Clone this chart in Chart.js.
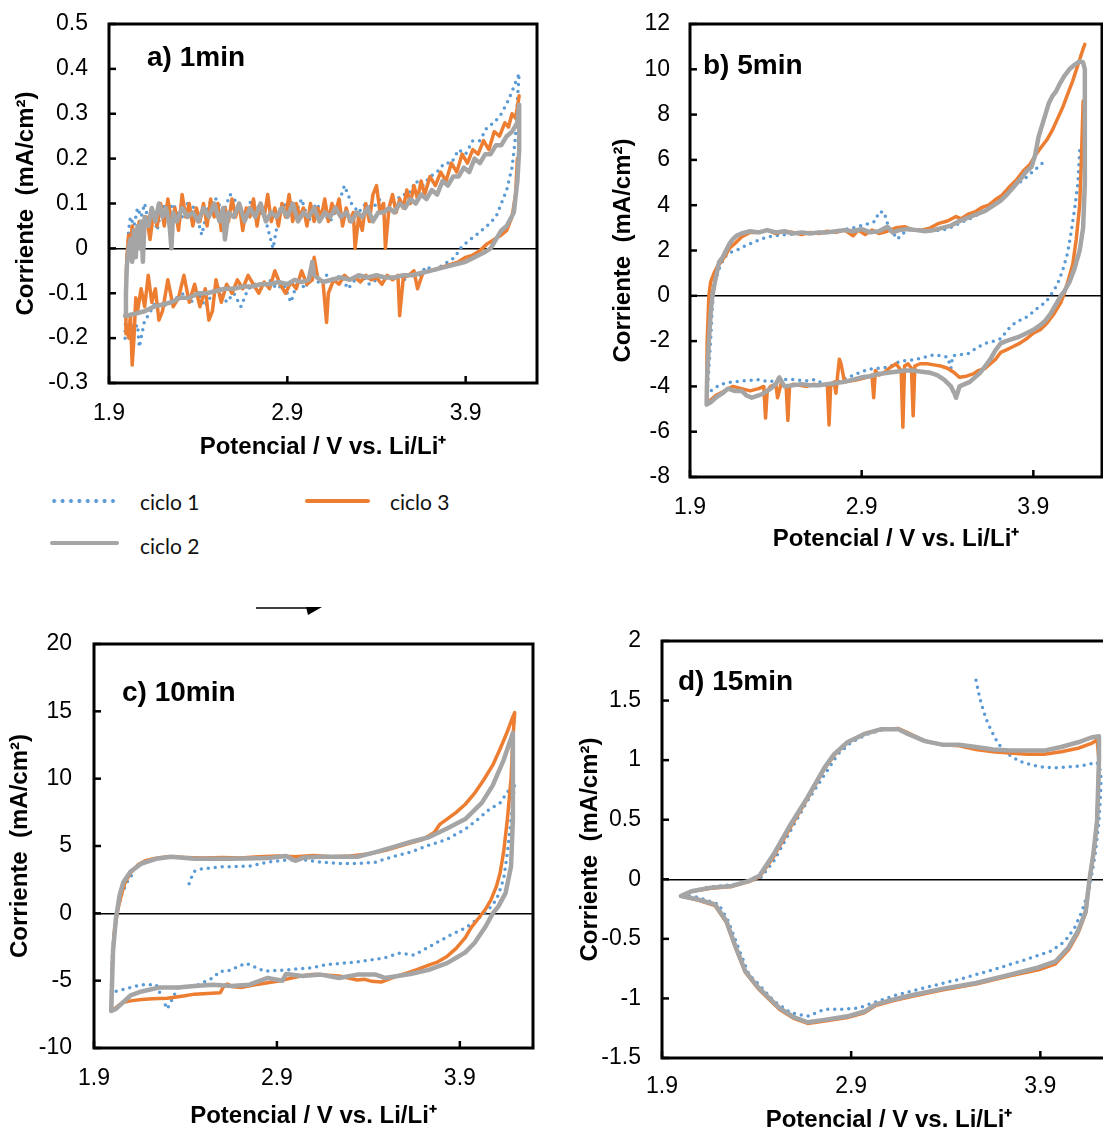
<!DOCTYPE html>
<html>
<head>
<meta charset="utf-8">
<script src="https://cdn.jsdelivr.net/npm/chart.js@4.4.1/dist/chart.umd.min.js"></script>
<style>
  html, body { margin: 0; padding: 0; background: #fff; }
  body { position: relative; width: 1103px; height: 1131px; overflow: hidden; font-family: Lato, "Open Sans", sans-serif; }
  canvas { position: absolute; }
  .leg-text { position: absolute; font-size: 21px; line-height: 24px; color: #111; }
  .leg-line { position: absolute; height: 4px; border-radius: 2px; }
  .dots { background: radial-gradient(circle, #5B9BD5 1.7px, rgba(91,155,213,0) 2.2px) repeat-x; background-size: 8.4px 4px; }
</style>
</head>
<body>
<canvas id="chartA" width="560" height="470" style="left:0;top:0"></canvas>
<canvas id="chartB" width="520" height="560" style="left:583px;top:0"></canvas>
<canvas id="chartC" width="560" height="540" style="left:0;top:600px"></canvas>
<canvas id="chartD" width="553" height="540" style="left:570px;top:600px"></canvas>

<div class="leg-line dots" style="left:50px;top:499px;width:68px"></div>
<div class="leg-text" style="left:140px;top:490px">ciclo 1</div>
<div class="leg-line" style="left:305px;top:499px;width:65px;background:#ED7D31"></div>
<div class="leg-text" style="left:390px;top:490px">ciclo 3</div>
<div class="leg-line" style="left:50px;top:541px;width:69px;background:#A5A5A5"></div>
<div class="leg-text" style="left:140px;top:534px">ciclo 2</div>

<svg style="position:absolute;left:250px;top:598px" width="80" height="24">
  <line x1="6" y1="10" x2="60" y2="10" stroke="#000" stroke-width="1.5"/>
  <polygon points="56,9 72,9 58,17" fill="#000"/>
</svg>

<script>
const xTicks = [1.9, 2.9, 3.9];
const seriesNames = ['ciclo 1', 'ciclo 2', 'ciclo 3'];

// a) 1min  [potencial V, corriente mA/cm2]
const aCiclo1 = [[1.99,-0.2],[1.995,-0.1],[2.0,-0.02],[2.01,0.04],[2.02,0.07],[2.04,0.05],[2.06,0.09],[2.08,0.07],[2.1,0.1],[2.12,0.06],[2.14,0.09],[2.17,0.04],[2.2,0.1],[2.23,0.08],[2.26,0.1],[2.3,0.06],[2.34,0.1],[2.38,0.09],[2.42,0.03],[2.46,0.1],[2.5,0.11],[2.54,0.08],[2.58,0.12],[2.62,0.1],[2.66,0.07],[2.7,0.11],[2.74,0.09],[2.78,0.06],[2.82,0.0],[2.86,0.09],[2.9,0.1],[2.94,0.07],[2.98,0.11],[3.02,0.06],[3.06,0.1],[3.1,0.08],[3.14,0.06],[3.18,0.09],[3.22,0.14],[3.26,0.1],[3.3,0.08],[3.34,0.1],[3.38,0.09],[3.42,0.11],[3.46,0.08],[3.5,0.1],[3.54,0.12],[3.58,0.12],[3.62,0.15],[3.66,0.14],[3.7,0.16],[3.74,0.17],[3.78,0.19],[3.82,0.19],[3.86,0.22],[3.9,0.21],[3.94,0.24],[3.98,0.24],[4.02,0.27],[4.06,0.28],[4.1,0.3],[4.14,0.33],[4.17,0.36],[4.19,0.38],[4.2,0.39],
  [4.19,0.33],[4.18,0.25],[4.16,0.18],[4.13,0.13],[4.1,0.1],[4.07,0.07],[4.02,0.05],[3.96,0.03],[3.91,0.015],[3.87,0.0],[3.84,-0.02],[3.8,-0.03],[3.76,-0.04],[3.72,-0.05],[3.68,-0.04],[3.64,-0.06],[3.6,-0.05],[3.56,-0.07],[3.52,-0.06],[3.48,-0.07],[3.44,-0.06],[3.4,-0.07],[3.36,-0.08],[3.32,-0.06],[3.28,-0.07],[3.24,-0.09],[3.2,-0.06],[3.16,-0.07],[3.12,-0.06],[3.08,-0.08],[3.04,-0.05],[3.0,-0.09],[2.96,-0.07],[2.92,-0.12],[2.88,-0.08],[2.84,-0.09],[2.8,-0.07],[2.76,-0.09],[2.72,-0.08],[2.68,-0.09],[2.64,-0.13],[2.6,-0.1],[2.56,-0.12],[2.52,-0.09],[2.48,-0.1],[2.44,-0.13],[2.4,-0.1],[2.36,-0.12],[2.32,-0.1],[2.28,-0.11],[2.24,-0.12],[2.2,-0.13],[2.16,-0.12],[2.12,-0.15],[2.1,-0.16],[2.08,-0.2],[2.07,-0.22],[2.06,-0.17],[2.04,-0.18],[2.02,-0.16],[2.0,-0.19]];
const aCiclo2 = [[1.99,-0.15],[1.995,-0.1],[2.0,-0.04],[2.01,0.0],[2.02,0.02],[2.03,-0.03],[2.04,0.04],[2.05,-0.02],[2.06,0.05],[2.07,0.0],[2.08,0.06],[2.09,-0.03],[2.1,0.07],[2.12,0.05],[2.14,0.09],[2.16,0.06],[2.18,0.1],[2.2,0.07],[2.22,0.09],[2.24,0.05],[2.25,0.0],[2.26,0.08],[2.28,0.06],[2.31,0.09],[2.34,0.07],[2.37,0.08],[2.4,0.06],[2.43,0.09],[2.46,0.07],[2.49,0.1],[2.52,0.06],[2.54,0.09],[2.55,0.02],[2.57,0.08],[2.6,0.07],[2.63,0.1],[2.66,0.06],[2.69,0.09],[2.72,0.07],[2.75,0.1],[2.78,0.06],[2.81,0.08],[2.84,0.07],[2.87,0.09],[2.9,0.07],[2.93,0.1],[2.96,0.06],[2.99,0.08],[3.02,0.07],[3.05,0.09],[3.08,0.06],[3.11,0.08],[3.14,0.07],[3.17,0.09],[3.2,0.07],[3.23,0.08],[3.26,0.06],[3.29,0.08],[3.32,0.07],[3.35,0.09],[3.38,0.06],[3.41,0.08],[3.44,0.08],[3.47,0.09],[3.5,0.08],[3.53,0.1],[3.56,0.09],[3.59,0.11],[3.62,0.1],[3.65,0.12],[3.68,0.11],[3.71,0.13],[3.74,0.12],[3.77,0.15],[3.8,0.14],[3.83,0.16],[3.86,0.16],[3.89,0.18],[3.92,0.17],[3.95,0.2],[3.98,0.19],[4.01,0.21],[4.04,0.21],[4.07,0.23],[4.1,0.23],[4.13,0.25],[4.16,0.26],[4.19,0.28],[4.2,0.32],
  [4.2,0.22],[4.19,0.15],[4.17,0.08],[4.13,0.05],[4.1,0.04],[4.07,0.02],[4.04,0.0],[4.0,-0.01],[3.95,-0.02],[3.9,-0.03],[3.85,-0.035],[3.8,-0.04],[3.75,-0.045],[3.7,-0.05],[3.65,-0.055],[3.6,-0.06],[3.55,-0.06],[3.5,-0.065],[3.45,-0.065],[3.4,-0.06],[3.35,-0.065],[3.3,-0.06],[3.25,-0.07],[3.2,-0.065],[3.15,-0.07],[3.1,-0.075],[3.05,-0.06],[3.04,-0.03],[3.02,-0.07],[2.98,-0.075],[2.94,-0.07],[2.9,-0.08],[2.85,-0.075],[2.8,-0.08],[2.75,-0.08],[2.7,-0.085],[2.65,-0.085],[2.6,-0.09],[2.55,-0.09],[2.5,-0.095],[2.45,-0.1],[2.4,-0.1],[2.35,-0.11],[2.3,-0.11],[2.25,-0.12],[2.2,-0.125],[2.15,-0.13],[2.1,-0.14],[2.05,-0.145],[2.0,-0.15],[1.99,-0.15]];
const aCiclo3 = [[4.19,0.2],[4.18,0.12],[4.16,0.07],[4.13,0.04],[4.1,0.03],[4.06,0.02],[4.02,0.01],[3.98,-0.005],[3.94,-0.015],[3.9,-0.02],[3.86,-0.03],[3.82,-0.035],[3.78,-0.04],[3.74,-0.045],[3.7,-0.05],[3.66,-0.055],[3.63,-0.09],[3.61,-0.05],[3.58,-0.06],[3.55,-0.065],[3.53,-0.15],[3.52,-0.06],[3.49,-0.07],[3.46,-0.06],[3.43,-0.08],[3.4,-0.065],[3.37,-0.07],[3.34,-0.06],[3.31,-0.075],[3.28,-0.065],[3.25,-0.07],[3.22,-0.06],[3.19,-0.08],[3.16,-0.07],[3.13,-0.1],[3.12,-0.165],[3.1,-0.075],[3.07,-0.065],[3.05,-0.02],[3.04,-0.07],[3.01,-0.08],[2.98,-0.05],[2.95,-0.09],[2.92,-0.075],[2.89,-0.1],[2.86,-0.08],[2.83,-0.05],[2.8,-0.09],[2.77,-0.075],[2.74,-0.1],[2.71,-0.08],[2.68,-0.06],[2.65,-0.09],[2.62,-0.07],[2.59,-0.1],[2.56,-0.08],[2.53,-0.12],[2.5,-0.07],[2.48,-0.14],[2.46,-0.16],[2.44,-0.09],[2.41,-0.13],[2.38,-0.08],[2.35,-0.12],[2.32,-0.06],[2.29,-0.11],[2.26,-0.13],[2.23,-0.07],[2.2,-0.14],[2.18,-0.16],[2.16,-0.09],[2.14,-0.12],[2.12,-0.06],[2.1,-0.13],[2.08,-0.09],[2.06,-0.14],[2.05,-0.11],[2.04,-0.2],[2.03,-0.26],[2.02,-0.15],[2.01,-0.2],[2.0,-0.17],[1.995,-0.19],
  [1.995,-0.1],[2.0,-0.02],[2.01,0.03],[2.02,0.0],[2.03,0.05],[2.05,0.02],[2.07,0.06],[2.09,0.03],[2.11,0.07],[2.13,0.02],[2.15,0.08],[2.17,0.05],[2.19,0.1],[2.21,0.05],[2.23,0.11],[2.25,0.06],[2.27,0.09],[2.29,0.04],[2.31,0.12],[2.33,0.07],[2.35,0.1],[2.37,0.05],[2.39,0.09],[2.41,0.06],[2.43,0.1],[2.45,0.05],[2.47,0.11],[2.49,0.07],[2.51,0.1],[2.53,0.04],[2.55,0.09],[2.57,0.06],[2.59,0.11],[2.61,0.07],[2.63,0.1],[2.65,0.04],[2.67,0.09],[2.69,0.07],[2.71,0.11],[2.73,0.05],[2.75,0.1],[2.77,0.07],[2.79,0.12],[2.81,0.06],[2.83,0.09],[2.85,0.05],[2.87,0.1],[2.89,0.07],[2.91,0.12],[2.93,0.06],[2.95,0.1],[2.97,0.07],[2.99,0.09],[3.01,0.05],[3.03,0.1],[3.05,0.06],[3.07,0.09],[3.09,0.07],[3.11,0.11],[3.13,0.06],[3.15,0.1],[3.17,0.08],[3.19,0.11],[3.21,0.05],[3.23,0.09],[3.25,0.06],[3.27,0.08],[3.28,0.0],[3.3,0.07],[3.32,0.04],[3.34,0.1],[3.36,0.06],[3.38,0.12],[3.4,0.14],[3.42,0.08],[3.44,0.1],[3.45,0.0],[3.47,0.09],[3.49,0.12],[3.51,0.08],[3.53,0.11],[3.55,0.09],[3.57,0.13],[3.59,0.1],[3.61,0.14],[3.63,0.11],[3.65,0.15],[3.67,0.12],[3.7,0.16],[3.73,0.14],[3.76,0.17],[3.79,0.15],[3.82,0.19],[3.85,0.17],[3.88,0.21],[3.91,0.19],[3.94,0.22],[3.97,0.21],[4.0,0.24],[4.03,0.22],[4.06,0.26],[4.09,0.25],[4.12,0.28],[4.14,0.27],[4.16,0.3],[4.18,0.29],[4.2,0.34]];

// b) 5min
const bCiclo1 = [[2.0,-4.3],[2.02,-2.0],[2.03,-0.5],[2.04,0.3],[2.05,0.7],[2.07,1.2],[2.1,1.7],[2.13,1.9],[2.17,2.0],[2.22,2.2],[2.28,2.4],[2.35,2.6],[2.45,2.7],[2.55,2.75],[2.65,2.8],[2.75,2.85],[2.85,3.0],[2.9,3.1],[2.95,3.2],[2.98,3.3],[3.0,3.7],[3.03,3.7],[3.05,3.2],[3.08,2.8],[3.11,2.5],[3.13,2.7],[3.17,2.9],[3.25,2.9],[3.32,2.85],[3.4,2.95],[3.47,3.2],[3.53,3.4],[3.58,3.6],[3.65,4.0],[3.7,4.3],[3.76,4.8],[3.82,5.0],[3.87,5.3],[3.9,5.5],[3.93,5.7],[3.96,5.9],[3.98,null],
  [4.17,6.4],[4.16,5.0],[4.14,3.8],[4.12,2.8],[4.1,1.9],[4.07,1.1],[4.04,0.5],[4.0,0.0],[3.97,-0.3],[3.93,-0.5],[3.9,-0.7],[3.85,-1.0],[3.8,-1.15],[3.75,-1.5],[3.71,-1.9],[3.67,-2.0],[3.62,-2.1],[3.57,-2.3],[3.52,-2.55],[3.47,-2.6],[3.43,-2.65],[3.42,-3.2],[3.4,-2.7],[3.36,-2.65],[3.32,-2.6],[3.27,-2.7],[3.22,-2.8],[3.17,-2.85],[3.12,-2.9],[3.07,-3.1],[3.02,-3.2],[2.97,-3.2],[2.92,-3.3],[2.87,-3.45],[2.82,-3.6],[2.77,-3.75],[2.72,-4.0],[2.68,-3.9],[2.63,-3.7],[2.58,-3.75],[2.5,-3.7],[2.43,-3.7],[2.36,-3.8],[2.29,-3.7],[2.22,-3.75],[2.15,-3.8],[2.08,-3.9],[2.04,-4.1],[2.0,-4.3]];
const bCiclo2 = [[1.997,-4.8],[2.0,-3.5],[2.01,-2.0],[2.02,-0.8],[2.03,0.0],[2.05,0.8],[2.07,1.5],[2.09,1.7],[2.11,2.0],[2.13,2.3],[2.15,2.5],[2.17,2.65],[2.2,2.75],[2.25,2.85],[2.3,2.8],[2.35,2.9],[2.4,2.8],[2.45,2.85],[2.5,2.75],[2.55,2.8],[2.6,2.75],[2.65,2.8],[2.7,2.8],[2.75,2.85],[2.8,2.9],[2.85,2.85],[2.9,2.95],[2.95,2.8],[3.0,2.85],[3.05,3.05],[3.08,2.8],[3.12,2.9],[3.17,2.95],[3.22,2.9],[3.27,2.85],[3.32,2.9],[3.37,3.0],[3.42,3.1],[3.47,3.3],[3.52,3.45],[3.57,3.6],[3.62,3.75],[3.67,4.0],[3.71,4.2],[3.75,4.5],[3.79,4.85],[3.83,5.2],[3.86,5.5],[3.89,5.7],[3.91,6.2],[3.93,7.0],[3.95,7.5],[3.97,8.0],[3.99,8.5],[4.01,8.8],[4.03,9.0],[4.05,9.3],[4.08,9.7],[4.11,10.0],[4.14,10.2],[4.17,10.35],[4.19,10.3],[4.2,10.0],
  [4.2,8.0],[4.2,5.0],[4.19,3.0],[4.17,2.0],[4.14,1.2],[4.11,0.6],[4.08,0.2],[4.06,0.0],[4.03,-0.4],[4.0,-0.8],[3.97,-1.1],[3.94,-1.3],[3.9,-1.5],[3.86,-1.65],[3.82,-1.8],[3.78,-1.9],[3.74,-2.0],[3.71,-2.1],[3.68,-2.4],[3.65,-2.8],[3.62,-3.1],[3.59,-3.4],[3.56,-3.6],[3.53,-3.8],[3.5,-3.9],[3.47,-4.0],[3.45,-4.5],[3.44,-4.3],[3.42,-4.0],[3.38,-3.7],[3.34,-3.5],[3.3,-3.4],[3.25,-3.35],[3.2,-3.3],[3.15,-3.3],[3.1,-3.35],[3.05,-3.4],[3.0,-3.45],[2.95,-3.55],[2.9,-3.6],[2.85,-3.7],[2.8,-3.8],[2.75,-3.85],[2.7,-3.9],[2.65,-3.95],[2.6,-3.95],[2.55,-3.9],[2.5,-3.95],[2.45,-4.0],[2.42,-3.6],[2.4,-3.9],[2.37,-4.1],[2.33,-4.3],[2.3,-4.4],[2.26,-4.5],[2.23,-4.4],[2.2,-4.2],[2.16,-4.2],[2.12,-4.1],[2.09,-4.3],[2.05,-4.5],[2.02,-4.7],[1.997,-4.8]];
const bCiclo3 = [[4.19,8.6],[4.18,6.0],[4.17,4.0],[4.15,2.5],[4.13,1.4],[4.1,0.6],[4.08,0.1],[4.06,-0.3],[4.02,-0.8],[3.98,-1.2],[3.94,-1.5],[3.9,-1.65],[3.86,-1.9],[3.82,-2.1],[3.78,-2.25],[3.74,-2.4],[3.71,-2.5],[3.68,-2.8],[3.65,-3.0],[3.62,-3.2],[3.58,-3.3],[3.55,-3.45],[3.51,-3.55],[3.47,-3.6],[3.44,-3.4],[3.4,-3.2],[3.36,-3.1],[3.32,-3.05],[3.28,-3.0],[3.24,-3.0],[3.21,-3.1],[3.2,-5.3],[3.19,-3.2],[3.17,-3.0],[3.15,-3.1],[3.14,-5.8],[3.13,-3.3],[3.1,-3.0],[3.06,-3.2],[3.03,-3.4],[3.0,-3.5],[2.98,-3.3],[2.97,-4.5],[2.96,-3.5],[2.93,-3.6],[2.88,-3.7],[2.84,-3.75],[2.8,-3.8],[2.78,-3.0],[2.77,-2.8],[2.76,-3.5],[2.75,-4.3],[2.74,-3.8],[2.72,-3.9],[2.71,-5.7],[2.7,-3.9],[2.66,-3.95],[2.62,-3.9],[2.58,-4.0],[2.54,-3.95],[2.5,-3.9],[2.48,-4.0],[2.47,-5.5],[2.46,-4.0],[2.43,-3.9],[2.41,-4.5],[2.4,-3.9],[2.37,-4.0],[2.35,-4.2],[2.34,-5.4],[2.33,-4.0],[2.3,-4.1],[2.25,-4.2],[2.2,-4.1],[2.15,-4.0],[2.1,-4.2],[2.05,-4.4],[2.02,-4.6],[1.997,-4.7],
  [1.997,-4.0],[2.0,-2.0],[2.01,0.0],[2.02,0.6],[2.04,1.0],[2.06,1.3],[2.08,1.5],[2.1,1.7],[2.13,2.1],[2.16,2.3],[2.2,2.6],[2.25,2.8],[2.3,2.8],[2.35,2.9],[2.4,2.75],[2.45,2.85],[2.5,2.8],[2.55,2.7],[2.6,2.8],[2.65,2.75],[2.7,2.85],[2.75,2.8],[2.8,2.9],[2.85,2.65],[2.88,2.9],[2.92,2.7],[2.96,2.9],[3.0,2.75],[3.05,2.85],[3.1,3.0],[3.15,3.05],[3.2,2.9],[3.25,2.9],[3.3,3.0],[3.35,3.2],[3.4,3.3],[3.45,3.5],[3.48,3.4],[3.52,3.6],[3.56,3.7],[3.6,3.9],[3.64,4.0],[3.68,4.25],[3.72,4.45],[3.76,4.8],[3.8,5.1],[3.84,5.5],[3.88,5.8],[3.92,6.3],[3.95,6.6],[3.98,6.9],[4.01,7.3],[4.04,7.8],[4.07,8.3],[4.1,8.9],[4.13,9.5],[4.16,10.2],[4.19,10.9],[4.2,11.1]];

// c) 10min
const cCiclo1 = [[2.42,2.2],[2.445,3.1],[2.49,3.3],[2.59,3.45],[2.75,3.5],[2.85,3.8],[2.95,3.95],[3.04,4.0],[3.14,3.8],[3.24,3.7],[3.34,3.7],[3.44,3.8],[3.53,4.2],[3.63,4.55],[3.73,5.05],[3.83,5.5],[3.93,6.25],[4.0,7.0],[4.06,7.7],[4.12,8.2],[4.16,9.0],[4.2,9.7],
  [4.18,7.0],[4.16,4.5],[4.14,2.6],[4.11,1.35],[4.08,0.6],[4.04,0.1],[4.0,-0.4],[3.93,-1.1],[3.85,-1.6],[3.77,-2.2],[3.65,-3.1],[3.57,-2.95],[3.49,-3.3],[3.34,-3.6],[3.18,-3.8],[3.08,-4.05],[2.95,-4.2],[2.83,-4.3],[2.79,-4.05],[2.73,-3.7],[2.63,-4.3],[2.59,-4.3],[2.55,-4.8],[2.47,-5.3],[2.36,-5.5],[2.3,-7.1],[2.28,-6.5],[2.24,-5.3],[2.16,-5.3],[2.06,-5.65],[2.02,-5.8],[1.994,-6.25],
  [2.0,-2.8],[2.02,-0.4],[2.05,1.35],[2.08,2.3],[2.12,3.1]];
const cCiclo2 = [[1.994,-7.25],[2.004,-2.8],[2.02,-0.37],[2.04,1.35],[2.06,2.3],[2.1,3.1],[2.16,3.7],[2.24,4.05],[2.32,4.2],[2.45,4.05],[2.65,4.05],[2.85,4.1],[2.95,4.25],[3.0,3.9],[3.05,4.15],[3.14,4.2],[3.34,4.2],[3.44,4.55],[3.53,4.9],[3.63,5.3],[3.73,5.65],[3.83,6.3],[3.93,7.0],[4.02,8.2],[4.08,9.5],[4.14,11.4],[4.19,13.4],
  [4.19,7.0],[4.18,3.5],[4.15,1.5],[4.11,0.5],[4.08,0.0],[4.04,-1.0],[3.98,-2.2],[3.93,-2.9],[3.88,-3.3],[3.83,-3.7],[3.73,-4.2],[3.63,-4.5],[3.49,-4.8],[3.44,-4.55],[3.34,-4.55],[3.24,-4.8],[3.14,-4.55],[3.04,-4.65],[2.95,-4.5],[2.93,-5.0],[2.85,-4.8],[2.75,-5.3],[2.65,-5.4],[2.55,-5.3],[2.45,-5.4],[2.36,-5.5],[2.26,-5.5],[2.16,-5.8],[2.1,-6.1],[2.06,-6.6],[2.02,-7.1],[1.994,-7.25]];
const cCiclo3 = [[1.994,-7.2],[2.0,-4.0],[2.01,-1.5],[2.03,0.3],[2.05,1.4],[2.07,2.3],[2.1,3.0],[2.14,3.6],[2.18,3.9],[2.24,4.1],[2.3,4.2],[2.4,4.15],[2.5,4.1],[2.6,4.15],[2.7,4.1],[2.8,4.2],[2.9,4.25],[3.0,4.2],[3.1,4.3],[3.2,4.2],[3.3,4.25],[3.4,4.4],[3.5,4.7],[3.6,5.1],[3.7,5.5],[3.76,6.0],[3.79,6.6],[3.83,7.0],[3.88,7.5],[3.93,8.1],[3.98,8.9],[4.03,9.9],[4.08,11.0],[4.12,12.2],[4.16,13.5],[4.19,14.6],[4.2,14.9],
  [4.19,13.0],[4.18,10.0],[4.16,7.0],[4.14,4.6],[4.12,3.0],[4.1,2.0],[4.07,1.0],[4.04,0.3],[4.0,-0.4],[3.96,-1.1],[3.93,-1.8],[3.88,-2.6],[3.83,-3.2],[3.78,-3.6],[3.73,-3.85],[3.68,-4.1],[3.63,-4.35],[3.58,-4.55],[3.53,-4.8],[3.47,-5.1],[3.42,-5.05],[3.38,-4.9],[3.34,-4.95],[3.29,-4.8],[3.24,-4.65],[3.18,-4.6],[3.12,-4.55],[3.08,-4.55],[3.03,-4.65],[2.98,-4.8],[2.92,-5.0],[2.85,-5.15],[2.78,-5.3],[2.71,-5.5],[2.66,-5.45],[2.63,-5.25],[2.61,-5.4],[2.59,-5.9],[2.52,-5.95],[2.45,-6.0],[2.38,-6.15],[2.3,-6.3],[2.22,-6.35],[2.16,-6.4],[2.1,-6.5],[2.06,-6.6],[2.03,-6.9],[2.0,-7.2],[1.994,-7.25]];

// d) 15min
const dCiclo1 = [[3.56,1.67],[3.58,1.52],[3.6,1.41],[3.62,1.32],[3.64,1.25],[3.67,1.16],[3.7,1.09],[3.74,1.04],[3.79,0.99],[3.83,0.97],[3.88,0.95],[3.92,0.94],[3.97,0.935],[4.01,0.94],[4.06,0.945],[4.1,0.95],[4.14,0.96],[4.17,0.97],[4.2,0.98],[4.22,0.9],[4.22,0.77],[4.21,0.49],[4.19,0.21],[4.16,-0.07],[4.12,-0.27],[4.08,-0.41],[4.03,-0.52],[3.96,-0.6],[3.83,-0.67],[3.65,-0.76],[3.47,-0.84],[3.29,-0.91],[3.12,-0.98],[3.03,-1.03],[2.94,-1.08],[2.85,-1.09],[2.76,-1.09],[2.67,-1.15],[2.58,-1.12],[2.49,-1.02],[2.41,-0.88],[2.36,-0.8],[2.31,-0.6],[2.25,-0.35],[2.2,-0.21],[2.09,-0.15],[2.0,-0.13],[2.13,-0.07],[2.31,-0.04],[2.42,0.01],[2.49,0.15],[2.58,0.41],[2.67,0.66],[2.76,0.88],[2.83,1.05],[2.9,1.15],[2.99,1.22],[3.08,1.26],[3.15,1.26],[3.2,1.22],[3.29,1.16],[3.38,1.13],[3.47,1.13]];
const dCiclo2 = [[2.0,-0.14],[2.056,-0.1],[2.16,-0.07],[2.27,-0.056],[2.36,-0.014],[2.415,0.03],[2.49,0.21],[2.58,0.46],[2.67,0.69],[2.76,0.94],[2.81,1.05],[2.88,1.15],[2.97,1.22],[3.06,1.26],[3.15,1.26],[3.2,1.22],[3.29,1.16],[3.38,1.13],[3.47,1.13],[3.56,1.11],[3.65,1.09],[3.74,1.08],[3.83,1.08],[3.92,1.08],[4.01,1.11],[4.1,1.15],[4.17,1.19],[4.21,1.2],
  [4.21,1.0],[4.2,0.49],[4.18,0.21],[4.16,0.0],[4.14,-0.27],[4.1,-0.43],[4.05,-0.57],[3.98,-0.69],[3.89,-0.74],[3.74,-0.8],[3.56,-0.87],[3.38,-0.92],[3.2,-0.98],[3.12,-1.01],[3.03,-1.05],[2.97,-1.11],[2.88,-1.15],[2.76,-1.18],[2.67,-1.2],[2.6,-1.16],[2.52,-1.08],[2.41,-0.91],[2.34,-0.77],[2.29,-0.57],[2.24,-0.35],[2.18,-0.21],[2.09,-0.17],[2.0,-0.14]];
const dCiclo3 = [[2.0,-0.14],[2.06,-0.1],[2.16,-0.075],[2.27,-0.06],[2.36,-0.02],[2.415,0.02],[2.49,0.19],[2.58,0.44],[2.67,0.68],[2.76,0.93],[2.81,1.04],[2.88,1.15],[2.97,1.22],[3.06,1.26],[3.15,1.265],[3.2,1.23],[3.29,1.16],[3.38,1.13],[3.47,1.12],[3.56,1.09],[3.65,1.07],[3.74,1.06],[3.83,1.05],[3.92,1.05],[4.01,1.07],[4.1,1.1],[4.17,1.14],[4.2,1.17],
  [4.21,1.0],[4.2,0.49],[4.18,0.2],[4.16,0.0],[4.14,-0.28],[4.1,-0.45],[4.05,-0.59],[3.98,-0.71],[3.89,-0.76],[3.74,-0.81],[3.56,-0.88],[3.38,-0.93],[3.2,-0.99],[3.12,-1.02],[3.03,-1.06],[2.97,-1.12],[2.88,-1.16],[2.76,-1.19],[2.67,-1.21],[2.6,-1.17],[2.52,-1.09],[2.41,-0.92],[2.34,-0.78],[2.29,-0.58],[2.24,-0.36],[2.18,-0.22],[2.09,-0.175],[2.0,-0.14]];

const pts = arr => arr.map(([x, y]) => ({ x, y }));

// frame, inner tick marks and panel letter
const frame = {
  id: 'frame',
  afterDraw(chart, args, opts) {
    const { ctx, chartArea: a, scales } = chart;
    ctx.save();
    ctx.strokeStyle = '#000';
    ctx.lineWidth = 2.5;
    scales.y.ticks.forEach(t => {
      const p = scales.y.getPixelForValue(t.value);
      ctx.beginPath(); ctx.moveTo(a.left, p); ctx.lineTo(a.left + 7, p); ctx.stroke();
    });
    scales.x.ticks.forEach(t => {
      const p = scales.x.getPixelForValue(t.value);
      ctx.beginPath(); ctx.moveTo(p, a.bottom); ctx.lineTo(p, a.bottom - 7); ctx.stroke();
    });
    ctx.lineWidth = 3;
    ctx.strokeRect(a.left, a.top, a.right - a.left, a.bottom - a.top);
    ctx.fillStyle = '#000';
    ctx.font = 'bold 28px "Liberation Sans", Arial, sans-serif';
    ctx.textBaseline = 'middle';
    ctx.fillText(opts.text, a.left + opts.dx, a.top + opts.dy);
    ctx.restore();
  }
};

const tickFont = { family: '"Liberation Sans", Arial, sans-serif', size: 23 };
const titleFont = { family: '"Liberation Sans", Arial, sans-serif', size: 24, weight: 'bold' };
const fmt = v => String(+(+v).toFixed(2));

function makeChart(id, c1, c2, c3, p) {
  new Chart(document.getElementById(id), {
    type: 'line',
    data: {
      datasets: [
        { label: seriesNames[0], data: pts(c1), borderColor: '#5B9BD5', borderWidth: 3.5,
          borderDash: [0, 7], borderCapStyle: 'round', order: 2 },
        { label: seriesNames[1], data: pts(c2), borderColor: '#A5A5A5', borderWidth: 4.5,
          borderJoinStyle: 'round', borderCapStyle: 'round', order: 0 },
        { label: seriesNames[2], data: pts(c3), borderColor: '#ED7D31', borderWidth: 3.5,
          borderJoinStyle: 'round', borderCapStyle: 'round', order: 1 }
      ]
    },
    options: {
      responsive: false,
      animation: false,
      elements: { point: { radius: 0 }, line: { tension: 0, fill: false } },
      layout: { padding: { top: p.padTop, right: p.padRight, left: 0, bottom: 0 } },
      plugins: {
        legend: { display: false },
        tooltip: { enabled: false },
        frame: { text: p.label, dx: p.dx, dy: p.dy }
      },
      scales: {
        x: {
          type: 'linear', min: 1.9, max: 4.3,
          afterBuildTicks: s => { s.ticks = xTicks.map(v => ({ value: v })); },
          afterFit: s => { s.height = p.xH; s.paddingLeft = 0; s.paddingRight = 0; },
          grid: { display: false, drawTicks: false },
          border: { display: false },
          ticks: { font: tickFont, color: '#000', padding: p.xPad, maxRotation: 0, callback: v => (+v).toFixed(1) },
          title: { display: true, text: 'Potencial / V vs. Li/Li⁺', font: titleFont, color: '#000',
                   padding: { top: 0, bottom: p.xTitlePad } }
        },
        y: {
          min: p.yMin, max: p.yMax,
          ticks: { stepSize: p.yStep, font: tickFont, color: '#000', padding: p.yPad, callback: fmt },
          afterFit: s => { s.width = p.yW; s.paddingTop = 0; s.paddingBottom = 0; },
          grid: { drawTicks: false, lineWidth: 1.5,
                  color: ctx => (ctx.tick && ctx.tick.value === 0) ? '#000' : 'rgba(0,0,0,0)' },
          border: { display: false },
          title: { display: true, text: 'Corriente  (mA/cm²)', font: titleFont, color: '#000',
                   padding: { top: p.yTitlePad, bottom: 0 } }
        }
      }
    },
    plugins: [frame]
  });
}

makeChart('chartA', aCiclo1, aCiclo2, aCiclo3, {
  label: 'a) 1min', dx: 38, dy: 34, padTop: 24, padRight: 23, yW: 109, xH: 87,
  yMin: -0.3, yMax: 0.5, yStep: 0.1, yPad: 21, xPad: 17, xTitlePad: 8, yTitlePad: 12 });
makeChart('chartB', bCiclo1, bCiclo2, bCiclo3, {
  label: 'b) 5min', dx: 13, dy: 42, padTop: 24, padRight: 1, yW: 107, xH: 83,
  yMin: -8, yMax: 12, yStep: 2, yPad: 20, xPad: 17, xTitlePad: 6, yTitlePad: 26 });
makeChart('chartC', cCiclo1, cCiclo2, cCiclo3, {
  label: 'c) 10min', dx: 28, dy: 49, padTop: 44, padRight: 27, yW: 94, xH: 92,
  yMin: -10, yMax: 20, yStep: 5, yPad: 22, xPad: 17, xTitlePad: 9, yTitlePad: 6 });
makeChart('chartD', dCiclo1, dCiclo2, dCiclo3, {
  label: 'd) 15min', dx: 16, dy: 41, padTop: 41, padRight: 7, yW: 92, xH: 82,
  yMin: -1.5, yMax: 2, yStep: 0.5, yPad: 21, xPad: 15, xTitlePad: 5, yTitlePad: 6 });
</script>
</body>
</html>
